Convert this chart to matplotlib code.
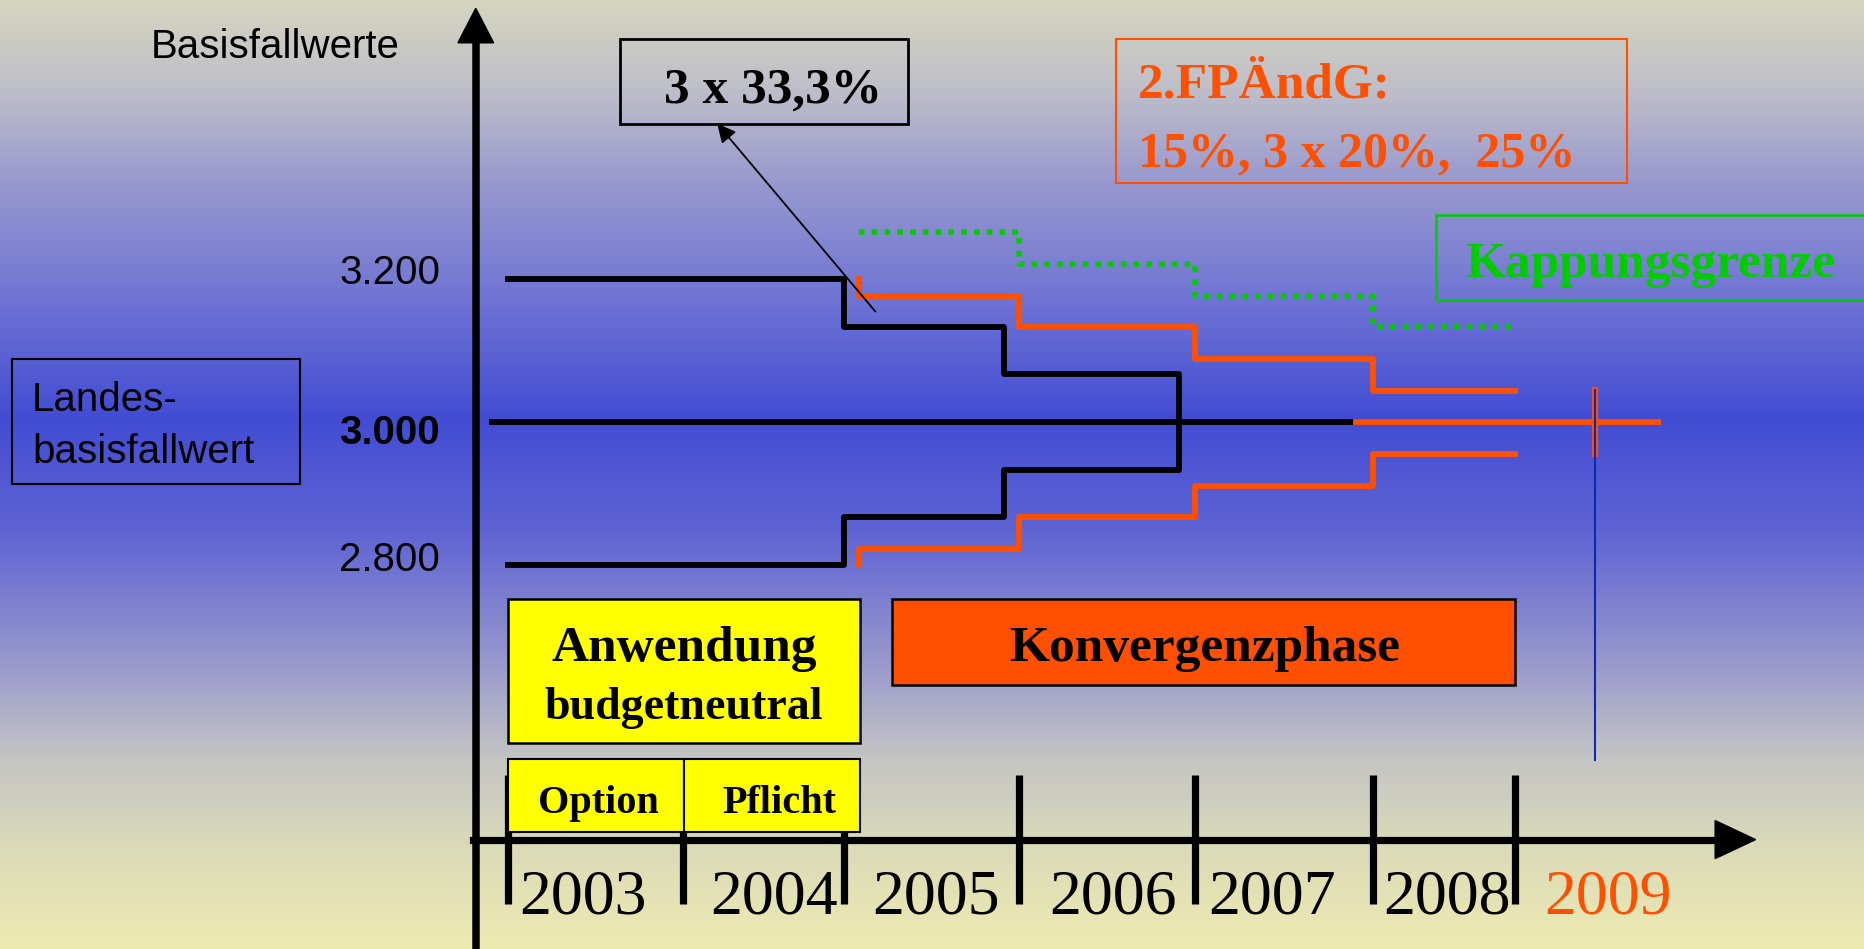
import matplotlib
matplotlib.use('Agg')
import matplotlib.pyplot as plt
import numpy as np
from matplotlib.colors import LinearSegmentedColormap
from matplotlib.patches import Rectangle, Polygon
from matplotlib.lines import Line2D

# ---- data -------------------------------------------------------------
years = ['2003', '2004', '2005', '2006', '2007', '2008', '2009']
year_x = [2003.43, 2004.52, 2005.45, 2006.46, 2007.37, 2008.37, 2009.29]
year_colors = ['black'] * 6 + ['#FF4F00']
tick_x = [2003.0, 2004.0, 2004.925, 2005.925, 2006.93, 2007.95, 2008.76]

ytick_vals = [3200, 3000, 2800]
ytick_labels = ['3.200', '3.000', '2.800']
ytick_bold = [False, True, False]

# budget-neutral phase (black), 3 x 33,3%
black_x = [2003.0, 2004.925, 2005.84, 2006.84]
black_hi = [3200, 3133, 3067, 3000]
black_lo = [2800, 2867, 2933, 3000]
black_mid_x = [2002.91, 2007.85]

# convergence after 2. FPAendG (orange), 15%, 3 x 20%, 25%
orange_x = [2005.01, 2005.01, 2005.925, 2006.93, 2007.95, 2008.76]
orange_hi = [3200, 3177, 3133, 3088, 3044, 3044]
orange_lo = [2800, 2822, 2867, 2911, 2955, 2955]
orange_mid_x = [2007.85, 2009.58]

# Kappungsgrenze (green dotted)
green_x = [2005.01, 2005.925, 2006.93, 2007.95, 2008.735]
green_y = [3266, 3222, 3177, 3133, 3133]

# end of convergence marker
end_x = 2009.22
end_cross = [2955, 3045]
end_line = [3045, 2527]

LBW = 3000

ORANGE = '#FF4F00'
GREEN = '#00CC00'

W, H = 1568.0, 798.0   # layout units (reference pixel grid)


def fx(x):
    return x / W


def fy(y):
    return 1 - y / H


fig = plt.figure(figsize=(18.65, 9.49), dpi=100)

# background gradient
bg = fig.add_axes([0, 0, 1, 1])
stops = [(0.00, (0.835, 0.835, 0.75)),
         (0.09, (0.75, 0.75, 0.79)),
         (0.19, (0.60, 0.60, 0.81)),
         (0.31, (0.44, 0.46, 0.83)),
         (0.44, (0.26, 0.30, 0.83)),
         (0.56, (0.37, 0.39, 0.83)),
         (0.70, (0.60, 0.60, 0.80)),
         (0.80, (0.77, 0.77, 0.77)),
         (0.885, (0.85, 0.85, 0.73)),
         (1.00, (0.93, 0.92, 0.69))]
cmap = LinearSegmentedColormap.from_list('bg', stops)
grad = np.linspace(0, 1, 512).reshape(-1, 1)
bg.imshow(grad, cmap=cmap, aspect='auto', extent=[0, 1, 0, 1], origin='upper')
bg.axis('off')

# main axes: x in years, y in Basisfallwert
ax = fig.add_axes([0, 0, 1, 1])
ax.patch.set_alpha(0)
ax.set_xlim(2003 - 427 / 147, 2003 + (W - 427) / 147)
ax.set_ylim(3000 - (H - 355) / 0.6, 3000 + 355 / 0.6)
ax.axis('off')

lw_step = 4.2
ax.plot(black_x, black_hi, drawstyle='steps-post', color='black', lw=lw_step, zorder=5)
ax.plot(black_x, black_lo, drawstyle='steps-post', color='black', lw=lw_step, zorder=5)
ax.plot(black_mid_x, [LBW, LBW], color='black', lw=lw_step, zorder=5)
ax.plot(orange_x, orange_hi, drawstyle='steps-post', color=ORANGE, lw=lw_step, zorder=5)
ax.plot(orange_x, orange_lo, drawstyle='steps-post', color=ORANGE, lw=lw_step, zorder=5)
ax.plot(orange_mid_x, [LBW, LBW], color=ORANGE, lw=lw_step, zorder=5)
ax.plot(green_x, green_y, drawstyle='steps-post', color=GREEN, lw=4.0,
        linestyle=(0, (1.0, 1.3)), dash_capstyle='butt', zorder=5)
ax.plot([end_x, end_x], end_cross, color=ORANGE, lw=4.4, zorder=6)
ax.plot([end_x, end_x], end_line, color='#1028B0', lw=1.5, zorder=7)

# axes arrows
T = fig.transFigure
fig.add_artist(Line2D([fx(400), fx(400)], [fy(H + 5), fy(34)], color='black', lw=5.4, transform=T, zorder=8))
fig.add_artist(Polygon([(fx(385), fy(36)), (fx(415), fy(36)), (fx(400), fy(7))], closed=True,
                       color='black', transform=T, zorder=8))
fig.add_artist(Line2D([fx(398), fx(1444)], [fy(706), fy(706)], color='black', lw=5.2, transform=T, zorder=8))
fig.add_artist(Polygon([(fx(1442), fy(690)), (fx(1442), fy(722)), (fx(1476), fy(706))], closed=True,
                       color='black', transform=T, zorder=8))

# year ticks (the one inside the "Pflicht" box lies behind it)
for tx in tick_x:
    z = 2 if 2004.5 < tx < 2005.0 else 9
    ax.plot([tx, tx], [3000 - (652 - 355) / 0.6, 3000 - (760 - 355) / 0.6],
            color='black', lw=5.2, zorder=z, solid_capstyle='butt')

for lab, x, c in zip(years, year_x, year_colors):
    ax.text(x, 3000 - (768 - 355) / 0.6, lab, ha='center', va='baseline', color=c,
            family='Liberation Serif', fontsize=46, zorder=9)

# y labels
for v, lab, b in zip(ytick_vals, ytick_labels, ytick_bold):
    off = {3200: 239, 3000: 373, 2800: 480}[v]
    fig.text(fx(370), fy(off), lab, ha='right', va='baseline', family='Liberation Sans',
             fontsize=29, fontweight='bold' if b else 'normal')

fig.text(fx(231), fy(49), 'Basisfallwerte', ha='center', va='baseline',
         family='Liberation Sans', fontsize=29)


def box(x0, y0, x1, y1, fc='none', ec='black', lw=1.5, z=3):
    fig.add_artist(Rectangle((fx(x0), fy(y1)), fx(x1) - fx(x0), fy(y0) - fy(y1),
                             facecolor=fc, edgecolor=ec, lw=lw, transform=T, zorder=z))


serif = dict(family='Liberation Serif', fontweight='bold', va='baseline', zorder=10)

# Landesbasisfallwert
box(10, 302, 252, 407)
fig.text(fx(27), fy(346), 'Landes-', family='Liberation Sans', fontsize=29, va='baseline')
fig.text(fx(27), fy(389), 'basisfallwert', family='Liberation Sans', fontsize=29, va='baseline')

# 3 x 33,3% callout
box(521, 33, 763, 104, lw=2)
fig.text(fx(650), fy(86), '3 x 33,3%', ha='center', fontsize=37, **serif)
ax.annotate('', xy=(fx(603), fy(104)), xytext=(fx(736), fy(262)),
            xycoords='figure fraction', textcoords='figure fraction',
            arrowprops=dict(arrowstyle='-|>', color='black', lw=1.3, mutation_scale=28,
                            shrinkA=0, shrinkB=0), zorder=9)

# 2.FPAendG
box(938, 33, 1368, 154, ec=ORANGE, lw=1.5)
fig.text(fx(957), fy(82), '2.FPÄndG:', color=ORANGE, fontsize=37, **serif)
fig.text(fx(957), fy(140), '15%, 3 x 20%,  25%', color=ORANGE, fontsize=36, **serif)

# Kappungsgrenze
box(1207, 181, 1590, 252, ec=GREEN, lw=1.8)
fig.text(fx(1232), fy(233), 'Kappungsgrenze', color=GREEN, fontsize=37, **serif)

# phases
box(427, 504, 723, 625, fc='#FFFF00', lw=1.8)
fig.text(fx(575), fy(556), 'Anwendung', ha='center', fontsize=37, **serif)
fig.text(fx(575), fy(605), 'budgetneutral', ha='center', fontsize=33, **serif)

box(750, 504, 1274, 576, fc=ORANGE, lw=1.8)
fig.text(fx(1013), fy(556), 'Konvergenzphase', ha='center', fontsize=37, **serif)

box(427, 638, 575, 700, fc='#FFFF00', lw=1.5)
box(575, 638, 723, 700, fc='#FFFF00', lw=1.5)
fig.text(fx(503), fy(684), 'Option', ha='center', fontsize=29, **serif)
fig.text(fx(655), fy(684), 'Pflicht', ha='center', fontsize=29, **serif)

fig.savefig('out.png', dpi=100)
